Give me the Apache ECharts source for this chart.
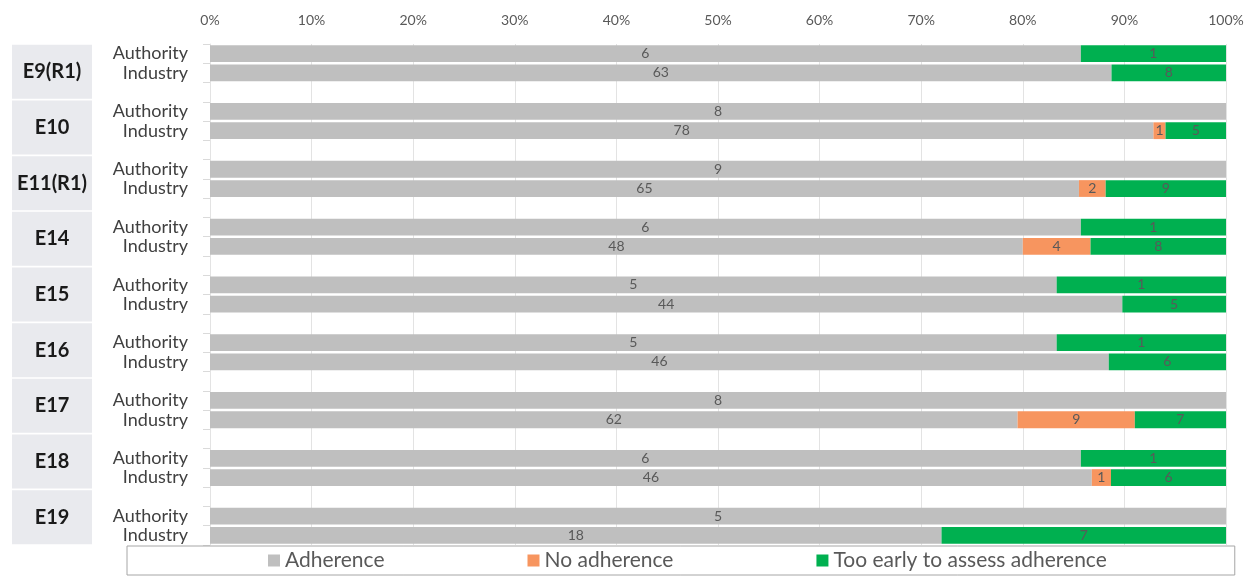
<!DOCTYPE html>
<html><head><meta charset="utf-8">
<script src="https://cdn.jsdelivr.net/npm/echarts@6/dist/echarts.min.js"></script>
<style>html,body{margin:0;padding:0;background:#fff}#c{width:1256px;height:578px}</style>
</head><body><div id="c"></div>
<script>
const groups = ['E9(R1)','E10','E11(R1)','E14','E15','E16','E17','E18','E19'];
const roles = ['Authority','Industry'];
const seriesNames = ['Adherence','No adherence','Too early to assess adherence'];
// counts per group: [Authority, Industry]
const adherence   = [[6,63],[8,78],[9,65],[6,48],[5,44],[5,46],[8,62],[6,46],[5,18]];
const noAdherence = [[0,0],[0,1],[0,2],[0,4],[0,0],[0,0],[0,9],[0,1],[0,0]];
const tooEarly    = [[1,8],[0,5],[0,9],[1,8],[1,5],[1,6],[0,7],[1,6],[0,7]];
const tickLabels = ['0%','10%','20%','30%','40%','50%','60%','70%','80%','90%','100%'];
const colors = ['#bfbfbf','#f7955f','#00b050'];

const cats = [];
const counts = [[],[],[]];
groups.forEach((g, gi) => {
  roles.forEach((r, ri) => {
    cats.push(g + '|' + r);
    counts[0].push(adherence[gi][ri]);
    counts[1].push(noAdherence[gi][ri]);
    counts[2].push(tooEarly[gi][ri]);
  });
  if (gi < groups.length - 1) {
    cats.push(g + '|gap');
    counts[0].push(null); counts[1].push(null); counts[2].push(null);
  }
});
const totals = cats.map((c, i) => counts[0][i] == null ? null : counts[0][i] + counts[1][i] + counts[2][i]);

const series = seriesNames.map((name, si) => ({
  name, type: 'bar', stack: 'all', yAxisIndex: 0,
  barCategoryGap: '13%',
  itemStyle: { color: colors[si] },
  label: {
    show: true, position: 'inside', fontSize: 14, color: '#595959',
    fontFamily: 'Lato',
    formatter: p => { const v = counts[si][p.dataIndex]; return v ? String(v) : ''; }
  },
  data: counts[si].map((v, i) => v == null ? '-' : v / totals[i] * 100)
}));

const chart = echarts.init(document.getElementById('c'));
chart.setOption({
  animation: false,
  textStyle: { fontFamily: 'Lato' },
  grid: { left: 210, right: 30, top: 44, bottom: 33 },
  xAxis: {
    type: 'value', position: 'top', min: 0, max: 100, interval: 10,
    axisLabel: { formatter: v => tickLabels[Math.round(v / 10)], color: '#595959', fontSize: 14, margin: 17 },
    axisLine: { show: false }, axisTick: { show: false },
    splitLine: { lineStyle: { color: '#e3e3e3' } }
  },
  yAxis: [{
    type: 'category', inverse: true, data: cats,
    axisLine: { show: true, lineStyle: { color: '#e3e3e3' } },
    axisTick: { show: true, length: 7, lineStyle: { color: '#dadada' } },
    axisLabel: {
      interval: 0, margin: 22, fontSize: 18, color: '#404040', align: 'right',
      formatter: v => { const r = v.split('|')[1]; return r === 'gap' ? '' : r; }
    }
  }, {
    type: 'category', inverse: true, data: groups, position: 'left',
    axisLine: { show: false }, axisTick: { show: false }, splitLine: { show: false },
    axisLabel: {
      interval: 0, margin: 158, align: 'center', verticalAlign: 'middle',
      fontSize: 20, fontWeight: 'bold', color: '#1a1a1a',
      backgroundColor: '#e9eaee', width: 80, height: 54, lineHeight: 54
    }
  }],
  legend: {
    left: 127, top: 546, icon: 'rect', itemWidth: 12, itemHeight: 12, itemGap: 143,
    padding: [4, 128, 4, 141], borderColor: '#a6a6a6', borderWidth: 1, backgroundColor: '#fff',
    textStyle: { fontSize: 21, color: '#595959' },
    data: seriesNames
  },
  series
});
</script></body></html>
